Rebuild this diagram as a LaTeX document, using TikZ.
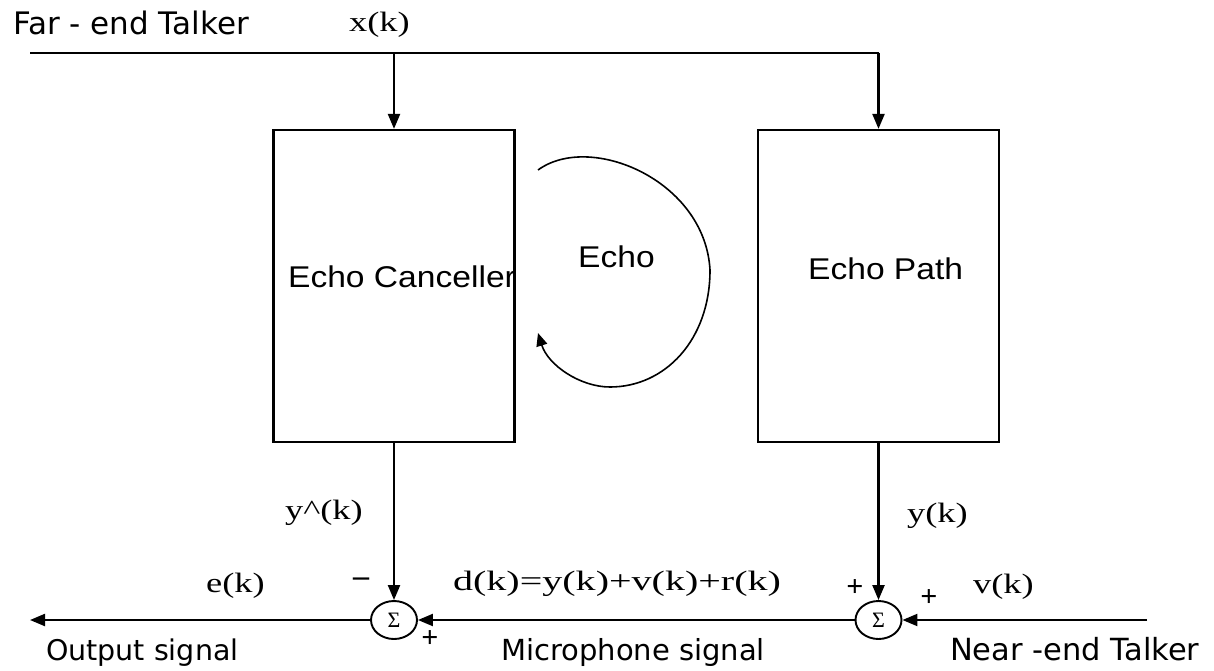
\documentclass[tikz,border=0pt]{standalone}
\usepackage{fontspec}
\setmainfont{Liberation Serif}[FakeStretch=1.3]
\newfontfamily\wideserif{Liberation Serif}[FakeStretch=1.43]
\newfontfamily\outsans{DejaVu Sans}
\newfontfamily\boxsans{Liberation Sans}[FakeStretch=1.12]
\newfontfamily\plainserif{Liberation Serif}
\usetikzlibrary{arrows.meta,shapes.geometric,calc}
\begin{document}
\begin{tikzpicture}[x=1pt,y=-1pt,line width=2.2pt,
  arr/.style={-{Triangle[length=15pt,width=12pt]}},
  blk/.style={draw,rectangle,minimum width=241pt,minimum height=312pt,inner sep=0pt},
  sumn/.style={draw,ellipse,minimum width=46pt,minimum height=38pt,inner sep=0pt,line width=1.9pt,
    font=\plainserif\fontsize{22}{23}\selectfont},
  ser/.style={font=\fontsize{28}{32}\selectfont,inner sep=0pt},
  sgn/.style={font=\plainserif\bfseries\fontsize{30}{32}\selectfont,inner sep=0pt},
  osans/.style={font=\outsans\fontsize{29}{32}\selectfont,inner sep=0pt},
  bsans/.style={font=\boxsans\fontsize{30}{34}\selectfont,inner sep=0pt}]
\useasboundingbox (0,0) rectangle (1214,671);
\fill[white] (0,0) rectangle (1214,671);

% blocks
\node[blk] (canc) at (394,286) {};
\node[blk] (path) at (878.5,286) {};
\node[bsans,anchor=base west] (canclbl) at (287,287) {Echo Canceller};
\node[bsans,anchor=base west] (echolbl) at (577,267) {Echo};
\node[bsans,anchor=base west] (pathlbl) at (807,279) {Echo Path};

% summing junctions
\node[sumn] (s1) at (394,620) {Σ};
\node[sumn] (s2) at (878.5,620) {Σ};

% free ends
\coordinate (src) at (30,53);
\coordinate (corner) at (path.north |- src);
\coordinate (near) at (1147,620);
\coordinate (out) at (30,620);

% connectors
\draw (src) -- (corner);
\draw[arr] (corner) -- (path.north);
\draw[arr] (canc.north |- src) -- (canc.north);
\draw[arr] (canc.south) -- (s1.north);
\draw[arr] (path.south) -- (s2.north);
\draw[arr] (near) -- (s2.east);
\draw[arr] (s2.west) -- (s1.east);
\draw[arr] (s1.west) -- (out);

% echo arc
\draw[-{Triangle[length=13pt,width=11pt]},line width=1.6pt] (538,170)
  .. controls (590,132) and (705,180) .. (710,270)
  .. controls (710,340) and (665,387) .. (610,387)
  .. controls (580,387) and (548,365) .. (538,333);

% labels
\node[osans,font=\outsans\fontsize{31}{34}\selectfont,anchor=base west] (farlbl) at (12,35) {Far - end Talker};
\node[ser,anchor=base west] (xlbl) at (348,32) {x(k)};
\node[ser,anchor=base west] (yhlbl) at (284,519) {y\^{}(k)};
\node[ser,anchor=base west] (ylbl) at (906,522) {y(k)};
\node[ser,anchor=base west] (elbl) at (205,592) {e(k)};
\node[ser,font=\wideserif\fontsize{28}{32}\selectfont,anchor=base west] (dlbl) at (452,590) {d(k)=y(k)+v(k)+r(k)};
\node[ser,anchor=base west] (vlbl) at (972,593) {v(k)};
\node[sgn,font=\plainserif\bfseries\fontsize{32}{34}\selectfont] (m1) at (361,582) {–};
\node[sgn] (p1) at (430,639) {+};
\node[sgn] (p2) at (855,588) {+};
\node[sgn] (p3) at (929,598) {+};
\node[osans,font=\outsans\fontsize{28.5}{32}\selectfont,anchor=base west] (outlbl) at (45,660) {Output signal};
\node[osans,anchor=base west] (miclbl) at (500,660) {Microphone signal};
\node[osans,font=\outsans\fontsize{30.5}{34}\selectfont,anchor=base west] (nearlbl) at (949,660) {Near -end Talker};
\end{tikzpicture}
\end{document}
